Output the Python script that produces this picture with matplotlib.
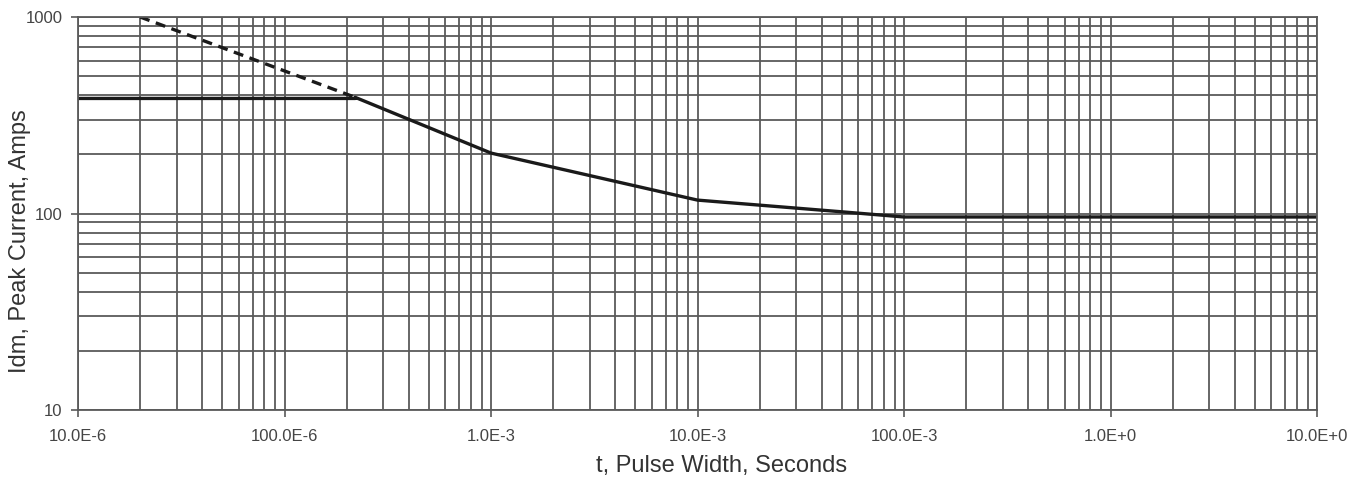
import matplotlib
matplotlib.use("Agg")
import matplotlib.pyplot as plt
from matplotlib.ticker import LogLocator, FixedLocator, NullFormatter

plt.rcParams['font.family'] = ['Liberation Sans', 'DejaVu Sans']

# solid safe operating curve
t_solid = [10e-6, 220e-6, 220e-6, 1e-3, 10e-3, 50e-3, 100e-3, 10.0]
i_solid = [385, 385, 390, 203, 117, 102, 96, 96]

# dashed extension
t_dash = [20e-6, 220e-6]
i_dash = [1000, 390]

x_ticks = [10e-6, 100e-6, 1e-3, 10e-3, 100e-3, 1.0, 10.0]
x_labels = ["10.0E-6", "100.0E-6", "1.0E-3", "10.0E-3", "100.0E-3", "1.0E+0", "10.0E+0"]
y_ticks = [10, 100, 1000]
y_labels = ["10", "100", "1000"]

fig = plt.figure(figsize=(13.64, 4.91), dpi=100)
ax = fig.add_axes([78/1364, 1-410/491, (1317-78)/1364, (410-17)/491])

ax.set_xscale("log")
ax.set_yscale("log")
ax.set_xlim(10e-6, 10.0)
ax.set_ylim(10, 1000)

grid_col = "#5a5a5a"
ax.grid(True, which="both", color=grid_col, linewidth=1.3)
ax.set_axisbelow(True)

ax.xaxis.set_major_locator(FixedLocator(x_ticks))
ax.set_xticklabels(x_labels)
ax.xaxis.set_minor_locator(LogLocator(base=10, subs=range(2, 10), numticks=20))
ax.xaxis.set_minor_formatter(NullFormatter())
ax.yaxis.set_major_locator(FixedLocator(y_ticks))
ax.set_yticklabels(y_labels)
ax.yaxis.set_minor_locator(LogLocator(base=10, subs=range(2, 10), numticks=20))
ax.yaxis.set_minor_formatter(NullFormatter())

ax.tick_params(which="major", length=5, width=1.2, color=grid_col, labelsize=12, labelcolor="#444444")
ax.tick_params(axis="x", which="major", pad=9)
ax.tick_params(axis="y", which="major", pad=6)
ax.tick_params(which="minor", length=0)

for s in ax.spines.values():
    s.set_color(grid_col)
    s.set_linewidth(1.3)

ax.plot(t_solid, i_solid, color="#1a1a1a", linewidth=2.4, solid_joinstyle="round")
ax.plot(t_dash, i_dash, color="#1a1a1a", linewidth=2.4, linestyle=(0, (3, 2)))

ax.set_xlabel("t, Pulse Width, Seconds", fontsize=17, color="#333333", va="center")
ax.xaxis.set_label_coords((722 - 78) / 1239, (410 - 466) / 393)
ax.set_ylabel("Idm, Peak Current, Amps", fontsize=17, color="#333333", va="center")
ax.yaxis.set_label_coords((20 - 78) / 1239, (410 - 241) / 393)

fig.savefig("out.png", dpi=100, facecolor="white")
